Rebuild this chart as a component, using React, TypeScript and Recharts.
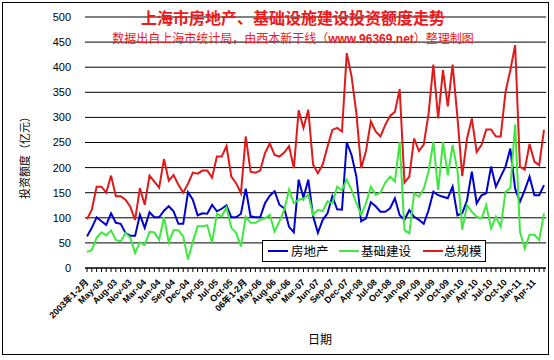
import React from 'react';
import { LineChart, Line, XAxis, YAxis, CartesianGrid, Legend } from 'recharts';

const categories = [
  '2003年1-2月','Mar-03','Apr-03','May-03','Jun-03','Jul-03','Aug-03','Sep-03','Oct-03','Nov-03','Dec-03',
  '04年1-2月','Mar-04','Apr-04','May-04','Jun-04','Jul-04','Aug-04','Sep-04','Oct-04','Nov-04','Dec-04',
  '05年1-2月','Mar-05','Apr-05','May-05','Jun-05','Jul-05','Aug-05','Sep-05','Oct-05','Nov-05','Dec-05',
  '06年1-2月','Mar-06','Apr-06','May-06','Jun-06','Jul-06','Aug-06','Sep-06','Oct-06','Nov-06','Dec-06',
  '07年1-2月','Mar-07','Apr-07','May-07','Jun-07','Jul-07','Aug-07','Sep-07','Oct-07','Nov-07','Dec-07',
  '08年1-2月','Mar-08','Apr-08','May-08','Jun-08','Jul-08','Aug-08','Sep-08','Oct-08','Nov-08','Dec-08',
  'Jan-09','Feb-09','Mar-09','Apr-09','May-09','Jun-09','Jul-09','Aug-09','Sep-09','Oct-09','Nov-09','Dec-09',
  'Jan-10','Feb-10','Mar-10','Apr-10','May-10','Jun-10','Jul-10','Aug-10','Sep-10','Oct-10','Nov-10','Dec-10',
  'Jan-11','Feb-11','Mar-11','Apr-11','May-11','Jun-11',
];

const realEstate = [
  63, 80, 101, 93, 86, 109, 90, 88, 70, 64, 64,
  106, 80, 111, 101, 101, 114, 123, 113, 88, 88, 151,
  136, 105, 109, 108, 126, 113, 118, 125, 101, 101, 108,
  158, 103, 101, 101, 129, 144, 153, 126, 119, 82, 71,
  176, 140, 176, 103, 70, 96, 109, 143, 117, 116, 250,
  225, 182, 93, 99, 131, 123, 112, 112, 119, 139, 105,
  96, 115, 102, 96, 88, 115, 152, 145, 142, 139, 162, 105,
  109, 135, 192, 129, 145, 149, 202, 162, 182, 202, 238, 158,
  132, 155, 182, 145, 145, 165,
];

const infrastructure = [
  32, 36, 60, 71, 65, 75, 56, 53, 70, 60, 30,
  51, 46, 72, 71, 56, 101, 51, 75, 75, 63, 17,
  53, 83, 83, 85, 51, 108, 103, 121, 80, 70, 43,
  102, 90, 90, 96, 99, 106, 73, 93, 116, 156, 129,
  136, 138, 146, 106, 116, 113, 133, 129, 162, 155, 176,
  155, 129, 106, 129, 162, 146, 150, 170, 182, 172, 251,
  76, 69, 149, 142, 158, 192, 251, 155, 251, 185, 245, 195,
  76, 125, 112, 102, 99, 125, 79, 102, 82, 152, 159, 286,
  72, 39, 66, 66, 56, 109,
];

const total = [
  97, 116, 162, 162, 150, 184, 143, 143, 136, 122, 96,
  159, 126, 184, 172, 160, 217, 174, 185, 166, 150, 168,
  190, 188, 194, 194, 180, 222, 222, 243, 182, 169, 149,
  262, 192, 190, 194, 229, 248, 225, 222, 230, 243, 199,
  314, 279, 315, 206, 189, 206, 242, 275, 279, 272, 428,
  381, 308, 199, 233, 292, 272, 262, 285, 303, 311, 356,
  170, 182, 258, 233, 246, 307, 405, 298, 394, 322, 405, 301,
  183, 258, 298, 231, 245, 276, 276, 262, 262, 351, 394, 444,
  202, 196, 247, 212, 205, 275,
];

const yTicks = [0, 50, 100, 150, 200, 250, 300, 350, 400, 450, 500];
const seriesNames = ['房地产', '基础建设', '总规模'];
const seriesColors = ['#0000d0', '#3ee83e', '#e01a1a'];

const data = categories.map((c, i) => ({
  cat: c,
  re: realEstate[i],
  inf: infrastructure[i],
  tot: total[i],
}));

const XTick = (props: any) => {
  const { x, y, payload } = props;
  const idx = payload && payload.index !== undefined ? payload.index : props.index;
  if (idx % 3 !== 0) return null;
  return (
    <text
      x={0}
      y={0}
      transform={`translate(${x + 2},${y + 9}) rotate(-45)`}
      textAnchor="end"
      fontSize={9}
      fontWeight="bold"
      fill="#000"
      fontFamily="'Liberation Sans', 'Noto Sans CJK SC', sans-serif"
    >
      {payload.value}
    </text>
  );
};

const legendLineX = [5, 76, 160];
const legendTextX = [28, 98, 181];

const LegendBox = () => (
  <div
    style={{
      position: 'relative',
      width: 224,
      height: 22,
      boxSizing: 'border-box',
      border: '1px solid #000',
      background: '#fff',
      fontFamily: "'Noto Sans CJK SC', sans-serif",
      fontSize: 12.5,
      color: '#000',
      whiteSpace: 'nowrap',
    }}
  >
    {seriesNames.map((n, i) => (
      <React.Fragment key={n}>
        <div
          style={{
            position: 'absolute',
            left: legendLineX[i],
            top: 9,
            width: 20,
            height: 2,
            background: seriesColors[i],
          }}
        />
        <span style={{ position: 'absolute', left: legendTextX[i], top: 0, lineHeight: '20px' }}>{n}</span>
      </React.Fragment>
    ))}
  </div>
);

export default function App() {
  return (
    <div style={{ position: 'absolute', left: 0, top: 0, width: 554, height: 360, background: '#fff' }}>
      <LineChart
        width={554}
        height={360}
        data={data}
        margin={{ top: 17, right: 8, bottom: 30, left: 30 }}
      >
        <CartesianGrid vertical={false} stroke="#000" strokeWidth={1} />
        <XAxis
          dataKey="cat"
          interval={0}
          height={62}
          padding={{ left: 2, right: 2 }}
          tick={<XTick />}
          tickSize={4}
          tickLine={{ stroke: '#000' }}
          axisLine={{ stroke: '#000' }}
        />
        <YAxis
          domain={[0, 500]}
          ticks={yTicks}
          interval={0}
          width={55}
          axisLine={false}
          tickLine={false}
          tickMargin={8}
          tick={{ fontSize: 11, fill: '#000', fontFamily: "'Liberation Sans', sans-serif" }}
        />
        <Legend
          layout="horizontal"
          verticalAlign="middle"
          align="center"
          wrapperStyle={{ left: 262, top: 240, width: 224, height: 22 }}
          content={() => <LegendBox />}
        />
        <Line dataKey="re" name={seriesNames[0]} stroke={seriesColors[0]} strokeWidth={2} dot={false} isAnimationActive={false} />
        <Line dataKey="inf" name={seriesNames[1]} stroke={seriesColors[1]} strokeWidth={2} dot={false} isAnimationActive={false} />
        <Line dataKey="tot" name={seriesNames[2]} stroke={seriesColors[2]} strokeWidth={2} dot={false} isAnimationActive={false} />
      </LineChart>
      <svg
        width={554}
        height={360}
        style={{ position: 'absolute', left: 0, top: 0, pointerEvents: 'none' }}
      >
        <rect x={2.5} y={2.5} width={546} height={352} fill="none" stroke="#000" strokeWidth={1} />
        <text
          x={293}
          y={24}
          textAnchor="middle"
          fontSize={16}
          fontWeight="bold"
          fill="#f01818"
          fontFamily="'Noto Sans CJK SC', sans-serif"
        >
          上海市房地产、基础设施建设投资额度走势
        </text>
        <text
          x={293}
          y={43}
          textAnchor="middle"
          fontSize={12}
          fill="#f01818"
          fontFamily="'Noto Sans CJK SC', sans-serif"
        >
          数据出自上海市统计局，由西本新干线（<tspan fontWeight="bold" fontFamily="'Liberation Sans', sans-serif">www.96369.net</tspan>）整理制图
        </text>
        <text
          x={0}
          y={0}
          transform="translate(29,155) rotate(-90)"
          textAnchor="middle"
          fontSize={11}
          fill="#000"
          fontFamily="'Noto Sans CJK SC', sans-serif"
        >
          投资额度（亿元）
        </text>
        <text
          x={320}
          y={344}
          textAnchor="middle"
          fontSize={12}
          fill="#000"
          fontFamily="'Noto Sans CJK SC', sans-serif"
        >
          日期
        </text>
      </svg>
    </div>
  );
}
